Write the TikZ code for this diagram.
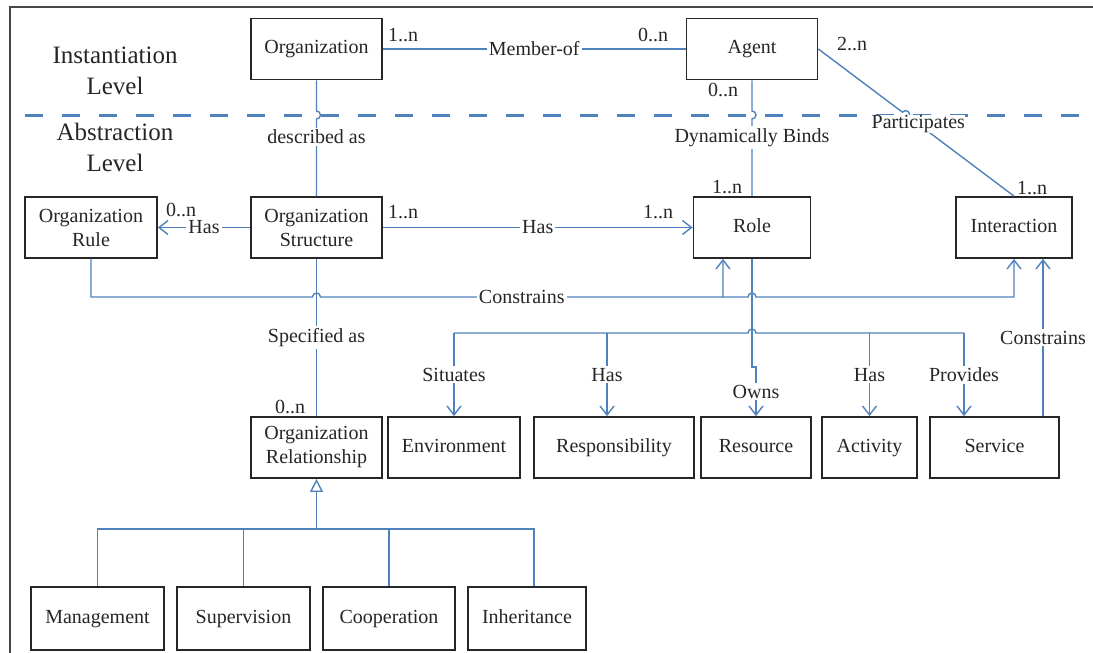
\documentclass[tikz,border=0pt]{standalone}
\usepackage{fontspec}
\setmainfont{Liberation Serif}
\usetikzlibrary{arrows.meta}
\definecolor{linkblue}{RGB}{79,129,189}
\definecolor{framegray}{RGB}{70,70,70}

\begin{document}
\begin{tikzpicture}[x=0.5pt,y=-0.5pt,>={Straight Barb[length=4.5pt,width=7pt]}]
        \tikzstyle{every node}=[font=\fontsize{10}{12}\selectfont,text=black!85]
        \tikzstyle{box}=[draw=black!85,line width=0.9pt,fill=white,minimum height=30.5pt,inner sep=2pt,align=center]
        \tikzstyle{onebox}=[box,text height=7pt,text depth=2.2pt]
        \tikzstyle{link}=[draw=linkblue,line width=0.7pt]
        \tikzstyle{lbl}=[fill=white,inner sep=1pt]
        \tikzstyle{mult}=[inner sep=1pt]
        \tikzstyle{level}=[font=\fontsize{12.5}{15.5}\selectfont,align=center]
        \useasboundingbox (0,0) rectangle (1093,653);

        % frame and level separator
        \draw[framegray,line width=1.2pt] (10,653) -- (10,7) -- (1093,7);
        \draw[linkblue,line width=1.5pt,dash pattern=on 9pt off 9.5pt] (25,115) -- (1093,115);
        \node[level] (inst) at (115,70.5) {Instantiation\\Level};
        \node[level] (abst) at (115,147.5) {Abstraction\\Level};

        % instantiation level
        \node[onebox,minimum width=65.5pt] (org) at (316.5,49) {Organization};
        \node[onebox,minimum width=65.5pt] (agent) at (752,49) {Agent};
        \draw[link] (org) -- node[lbl] (memb) {Member-of} (agent);
        \node[mult] (m1) at (403,35) {1..n};
        \node[mult] (m2) at (653,35) {0..n};

        % abstraction level
        \node[box,minimum width=66pt] (rule) at (91,227.5) {Organization\\Rule};
        \node[box,minimum width=65.5pt] (struct) at (316.5,227.5) {Organization\\Structure};
        \node[onebox,minimum width=58.5pt] (role) at (752,227.5) {Role};
        \node[onebox,minimum width=58pt] (inter) at (1014,227.5) {Interaction};

        \draw[link] (org.south) -- (316.5,111) arc[start angle=90,end angle=-90,radius=2pt]
            -- node[lbl,pos=0.23] (desc) {described as} (struct.north);
        \draw[link] (agent.south) -- (752,111) arc[start angle=90,end angle=-90,radius=2pt]
            -- node[lbl,pos=0.24] (dyn) {Dynamically Binds} (role.north);
        \node[mult] (m3) at (723,90) {0..n};
        \node[mult] (m4) at (727,187) {1..n};

        % participates
        \path (agent.east) -- coordinate[pos=0.446] (phop) (inter.north);
        \draw[link] (agent.east) -- ([shift={(143:2pt)}]phop) arc[start angle=143,end angle=-37,radius=2pt]
            -- node[lbl,inner sep=0pt,pos=0.09] (part) {Participates} (inter.north);
        \node[mult] (m5) at (852,44) {2..n};
        \node[mult] (m6) at (1032,188) {1..n};

        % has
        \draw[link,->] (struct) -- node[lbl] (has1) {Has} (rule);
        \node[mult] (m7) at (181,210) {0..n};
        \draw[link,->] (struct) -- node[lbl] (has2) {Has} (role);
        \node[mult] (m8) at (403,212) {1..n};
        \node[mult] (m9) at (658,212) {1..n};

        % constrains
        \coordinate (cjn) at (723,297);
        \draw[link,->] (rule.south) |- (312.5,297) arc[start angle=180,end angle=0,radius=2pt]
            -- node[lbl] (con1) {Constrains} (cjn) -- (cjn |- role.south);
        \draw[link,->] (cjn) -- (748,297) arc[start angle=180,end angle=0,radius=2pt] -| (inter.south);

        % role details
        \node[box,minimum width=65.5pt] (orgrel) at (316.5,447.5) {Organization\\Relationship};
        \node[onebox,minimum width=66pt] (env) at (454,447.5) {Environment};
        \node[onebox,minimum width=80pt] (resp) at (614,447.5) {Responsibility};
        \node[onebox,minimum width=55pt] (res) at (756,447.5) {Resource};
        \node[onebox,minimum width=47.5pt] (act) at (869.5,447.5) {Activity};
        \node[onebox,minimum width=64.5pt] (serv) at (994.5,447.5) {Service};

        \draw[link] (struct.south) -- node[lbl] (spec) {Specified as} (orgrel.north);
        \node[mult] (m10) at (290,407) {0..n};

        \draw[link,->] (role.south) -- ++(0,108) -| node[lbl,pos=0.75] (owns) {Owns} (res.north);

        \coordinate (bl) at (454,333);
        \coordinate (bresp) at (607,333);
        \coordinate (br) at (964,333);
        \draw[link] (bl) -- (748,333) arc[start angle=180,end angle=0,radius=2pt] -- (br);
        \draw[link,->] (bl) -- node[lbl] (sit) {Situates} (env.north);
        \draw[link,->] (bresp) -- node[lbl] (has3) {Has} (bresp |- resp.north);
        \draw[link,->] (act.north |- bl) -- node[lbl] (has4) {Has} (act.north);
        \draw[link,->] (br) -- node[lbl] (prov) {Provides} (br |- serv.north);

        \coordinate (scx) at (1043,0);
        \draw[link,->] (serv.north -| scx) -- node[lbl] (con2) {Constrains} (inter.south -| scx);

        % relationship kinds
        \node[onebox,minimum width=66.5pt,minimum height=31.5pt] (mgmt) at (97.5,618.5) {Management};
        \node[onebox,minimum width=66.5pt,minimum height=31.5pt] (superv) at (243.5,618.5) {Supervision};
        \node[onebox,minimum width=66pt,minimum height=31.5pt] (coop) at (389,618.5) {Cooperation};
        \node[onebox,minimum width=59pt,minimum height=31.5pt] (inher) at (527,618.5) {Inheritance};

        \coordinate (tree) at (316.5,529);
        \draw[link,-{Triangle[open,length=6.5pt,width=6.5pt]}] (tree) -- (orgrel.south);
        \draw[link] (mgmt.north) |- (tree) -| ([xshift=3.5pt]inher.north);
        \foreach \b in {superv,coop}
            \draw[link] (\b.north) -- (\b.north |- tree);

    \end{tikzpicture}
\end{document}
